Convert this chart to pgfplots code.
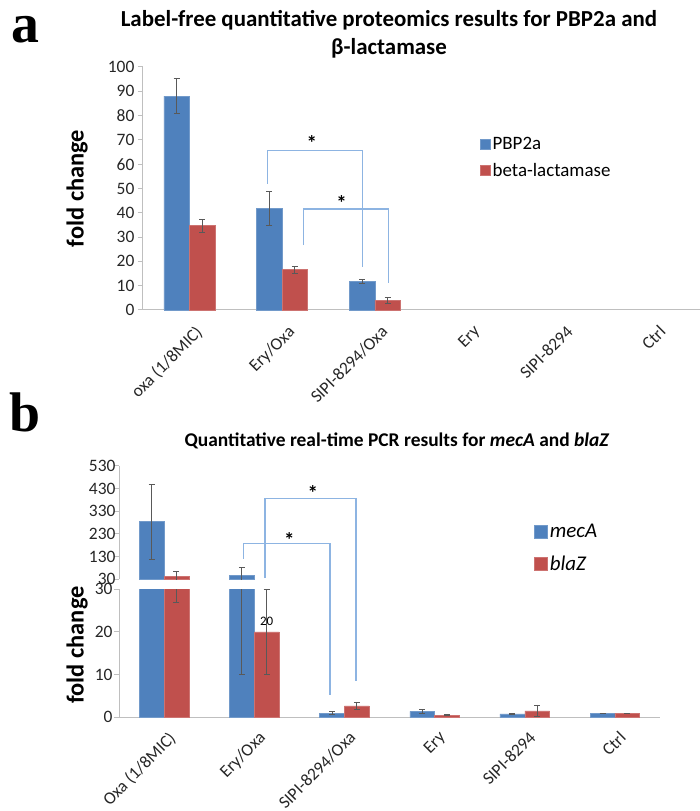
\documentclass[border=0pt]{standalone}
\usepackage{fontspec}
\setmainfont{Carlito}
\newfontfamily\lserif{Liberation Serif}
\usepackage{pgfplots}
\usepackage{pgfplotstable}
\pgfplotsset{compat=1.18}

\definecolor{xblue}{RGB}{79,129,189}
\definecolor{xred}{RGB}{192,80,77}
\definecolor{brk}{RGB}{141,180,226}
\definecolor{axgray}{RGB}{191,191,191}

% panel a: label-free proteomics (x = category index)
\pgfplotstableread{
x y e
0 88.0 7.2
1 41.8 6.9
2 11.7 0.9
}\pbp
\pgfplotstableread{
x y e
0 34.7 2.6
1 16.6 1.5
2 4.0 1.1
}\blac

% panel b: qPCR
\pgfplotstableread{
x y e
0 285 165
1 46 36
2 1.0 0.3
3 1.4 0.5
4 0.8 0.15
5 1.0 0
}\mecA
\pgfplotstableread{
x y e
0 45 18
1 20 10
2 2.7 0.9
3 0.5 0.1
4 1.5 1.4
5 1.0 0
}\blaZ

\tikzset{brack/.style={brk, line width=1.3bp}}
\pgfplotsset{
  errb/.style={
    /pgfplots/error bars/y dir=both,
    /pgfplots/error bars/y explicit,
    /pgfplots/error bars/error bar style={draw=black!65, line width=0.8bp},
    /pgfplots/error bars/error mark options={rotate=90, draw=black!65, mark size=3bp, line width=0.8bp},
  },
  bluebar/.style={ybar, bar width=0.275, bar shift=0pt, fill=xblue, draw=xblue!80!white, line width=0.5bp, errb},
  redbar/.style={ybar, bar width=0.275, bar shift=0pt, fill=xred, draw=xred!80!white, line width=0.5bp, errb},
  xl/.style={
    scale only axis, anchor=south west,
    xmin=-0.5, xmax=5.5,
    axis y line*=left, axis x line*=bottom,
    axis line style={axgray, line width=1bp},
    tick align=outside, major tick length=5bp,
    ytick style={axgray, line width=1bp},
    xtick style={draw=none},
    /pgf/number format/assume math mode=true,
    ticklabel style={font=\fontsize{17.5}{20}\selectfont, text=black!85},
    xtick={0,...,5},
    xticklabel style={rotate=45, anchor=north east, inner sep=1bp, xshift=-2bp, yshift=-9bp},
    legend image code/.code={\fill[#1] (0bp,-5bp) rectangle (10bp,5bp);},
    legend style={draw=none, fill=none, legend cell align=left},
  },
}

\begin{document}
\begin{tikzpicture}
\useasboundingbox (0,0) rectangle (700bp,811bp);

% ---------- panel a ----------
\node[anchor=base west, inner sep=0, font=\lserif\bfseries\fontsize{56}{56}\selectfont] at (11bp,768bp) {a};
\node[align=center, font=\bfseries\fontsize{23}{28}\selectfont] at (389bp,777bp)
  {Label-free quantitative proteomics results for PBP2a and\\β-lactamase};

\begin{axis}[xl, at={(142.9bp,501bp)}, width=556.8bp, height=243bp,
  ymin=0, ymax=100, ytick={0,10,...,100},
  xticklabels={oxa (1/8MIC), Ery/Oxa, SIPI-8294/Oxa, Ery, SIPI-8294, Ctrl},
  ylabel={fold change},
  ylabel style={at={(axis description cs:-0.118,0.5)}, anchor=center, font=\bfseries\fontsize{24.5}{28}\selectfont},
  legend style={at={(axis description cs:0.6,0.728)}, anchor=north west,
    font=\fontsize{19}{22}\selectfont, row sep=8bp},
  clip=false]
\addplot[bluebar] table[x expr=\thisrow{x}-0.1375, y=y, y error=e] {\pbp};
\addlegendentry{PBP2a}
\addplot[redbar] table[x expr=\thisrow{x}+0.1375, y=y, y error=e] {\blac};
\addlegendentry{beta-lactamase}
% significance brackets
\draw[brack] (axis cs:0.845,51.9) -- (axis cs:0.845,65.6) -- (axis cs:1.869,65.6) -- (axis cs:1.869,17.8);
\draw[brack] (axis cs:1.228,26.7) -- (axis cs:1.228,41.6) -- (axis cs:2.144,41.6) -- (axis cs:2.144,11.2);
\node[font=\bfseries\fontsize{21}{24}\selectfont, yshift=-3bp] at (axis cs:1.32,70) {*};
\node[font=\bfseries\fontsize{21}{24}\selectfont, yshift=-3bp] at (axis cs:1.64,45.3) {*};
\end{axis}

% ---------- panel b ----------
\node[anchor=base west, inner sep=0, font=\lserif\bfseries\fontsize{56}{56}\selectfont] at (9bp,379bp) {b};
\node[font=\bfseries\fontsize{19.5}{24}\selectfont] at (397bp,370bp)
  {Quantitative real-time PCR results for \textit{mecA} and \textit{blaZ}};

% upper part of the broken axis
\begin{axis}[xl, at={(119bp,231.7bp)}, width=541bp, height=113.3bp,
  ymin=30, ymax=530, ytick={30,130,...,530},
  yticklabel style={xshift=5bp},
  axis x line=none, xtick=\empty,
  restrict y to domain=30:1000,
  legend image code/.code={\fill[#1] (0bp,-6.5bp) rectangle (13bp,6.5bp);},
  legend style={at={(axis description cs:0.762,0.523)}, anchor=north west,
    font=\itshape\fontsize{21}{24}\selectfont, row sep=13bp},
  clip mode=individual]
\addplot[bluebar] table[x expr=\thisrow{x}-0.1375, y=y, y error=e] {\mecA};
\addlegendentry{mecA}
\addplot[redbar] table[x expr=\thisrow{x}+0.1375, y=y, y error=e] {\blaZ};
\addlegendentry{blaZ}
\end{axis}

% lower part of the broken axis
\begin{axis}[xl, at={(119bp,93.7bp)}, width=541bp, height=128bp,
  ymin=0, ymax=30, ytick={0,10,20,30},
  yticklabel style={xshift=2bp},
  xticklabel style={yshift=2bp},
  xticklabels={Oxa (1/8MIC), Ery/Oxa, SIPI-8294/Oxa, Ery, SIPI-8294, Ctrl},
  ylabel={fold change},
  ylabel style={at={(axis description cs:-0.0776,0.565)}, anchor=center, font=\bfseries\fontsize{24.5}{28}\selectfont},
  clip mode=individual]
\addplot[bluebar] table[x expr=\thisrow{x}-0.1375, y=y, y error=e] {\mecA};
\addplot[redbar] table[x expr=\thisrow{x}+0.1375, y=y, y error=e] {\blaZ};
\node[anchor=south, yshift=3bp, font=\fontsize{13}{15}\selectfont] at (axis cs:1.1375,20) {20};
% significance brackets (span both parts)
\draw[brack] (axis cs:1.12,32.6) -- (axis cs:1.12,51.3) -- (axis cs:2.13,51.3) -- (axis cs:2.13,8.6);
\draw[brack] (axis cs:0.88,37.2) -- (axis cs:0.88,40.7) -- (axis cs:1.84,40.7) -- (axis cs:1.84,5.2);
\node[font=\bfseries\fontsize{21}{24}\selectfont, yshift=-3bp] at (axis cs:1.65,53.2) {*};
\node[font=\bfseries\fontsize{21}{24}\selectfont, yshift=-3bp] at (axis cs:1.39,42.3) {*};
\end{axis}
\end{tikzpicture}
\end{document}
